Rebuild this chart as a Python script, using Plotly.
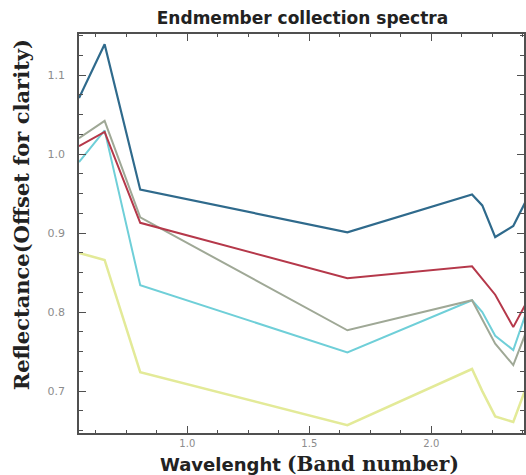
import plotly.graph_objects as go

# Band centre wavelengths (micrometres)
wavelength = [0.556, 0.661, 0.807, 1.656, 2.167, 2.209, 2.262, 2.336, 2.395]

# Endmember spectra (reflectance, offset for clarity)
spec_blue = [1.071, 1.139, 0.955, 0.901, 0.949, 0.935, 0.895, 0.909, 0.945]
spec_red = [1.010, 1.028, 0.913, 0.843, 0.858, 0.842, 0.822, 0.781, 0.815]
spec_gray = [1.020, 1.042, 0.920, 0.777, 0.815, 0.790, 0.760, 0.733, 0.780]
spec_cyan = [0.990, 1.030, 0.834, 0.749, 0.815, 0.800, 0.770, 0.752, 0.805]
spec_yellow = [0.875, 0.866, 0.724, 0.657, 0.728, 0.700, 0.668, 0.661, 0.710]

series = [
    ("yellow", spec_yellow, "#e3ea98", 2.5),
    ("cyan", spec_cyan, "#6fcfd8", 2.0),
    ("gray", spec_gray, "#9fa896", 2.0),
    ("red", spec_red, "#b5384a", 2.0),
    ("blue", spec_blue, "#2f6a8c", 2.2),
]

y_ticks = [0.7, 0.8, 0.9, 1.0, 1.1]
y_ticktext = ["0.7", "0.8", "0.9", "1.0", "1.1"]
x_ticks = [1.0, 1.5, 2.0]
x_ticktext = ["1.0", "1.5", "2.0"]

fig = go.Figure()
for name, vals, color, w in series:
    fig.add_trace(go.Scatter(x=wavelength, y=vals, mode="lines", name=name,
                             line=dict(color=color, width=w), showlegend=False))

axis_common = dict(
    showgrid=False, zeroline=False, showline=True, linecolor="#505050", linewidth=1.6,
    mirror="ticks", ticks="inside", tickcolor="#505050", tickwidth=1.3, ticklen=7,
)

fig.update_xaxes(range=[0.556, 2.38], tickvals=x_ticks, ticktext=x_ticktext,
                 tickfont=dict(family="DejaVu Sans", size=10, color="#8c8c8c"),
                 minor=dict(dtick=0.125, tick0=0, ticks="inside", ticklen=3,
                            tickcolor="#505050", tickwidth=1.2),
                 ticklabelstandoff=0, **axis_common)
fig.update_yaxes(range=[0.647, 1.152], tickvals=y_ticks, ticktext=y_ticktext,
                 tickfont=dict(family="DejaVu Sans", size=11, color="#8c8c8c"),
                 minor=dict(dtick=0.025, tick0=0, ticks="inside", ticklen=4,
                            tickcolor="#505050", tickwidth=1.2),
                 ticklabelstandoff=10, **axis_common)

fig.update_layout(
    width=526, height=475,
    margin=dict(l=79, r=0, t=34, b=42),
    paper_bgcolor="white", plot_bgcolor="white",
    title=dict(text="<b>Endmember collection spectra</b>", x=0.575, xanchor="center",
               y=0.962, yanchor="middle",
               font=dict(family="DejaVu Sans", size=17, color="#222222")),
)

fig.add_annotation(
    text="<b>Reflectance(Offset for clarity)</b>", textangle=-90,
    xref="paper", yref="paper", x=-0.130, y=0.546,
    xanchor="center", yanchor="middle", showarrow=False,
    font=dict(family="DejaVu Serif", size=21, color="#222222"),
)
fig.add_annotation(
    text="<b>Wavelenght </b><span style='font-family:DejaVu Serif;font-size:20px'><b>(Band number)</b></span>",
    xref="paper", yref="paper", x=0.517, y=-0.077,
    xanchor="center", yanchor="middle", showarrow=False,
    font=dict(family="DejaVu Sans", size=18, color="#222222"),
)

fig.write_html("out.html")
